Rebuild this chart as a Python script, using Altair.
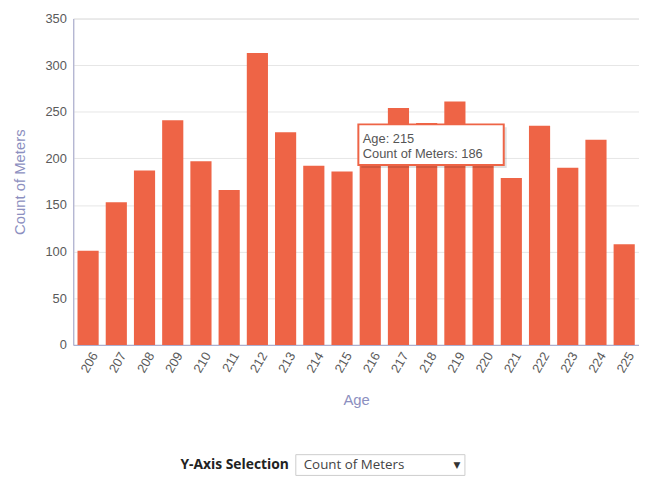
import altair as alt
import pandas as pd

ages = [str(a) for a in range(206, 226)]
counts = [101, 153, 187, 241, 197, 166, 313, 228, 192, 186,
          200, 254, 238, 261, 205, 179, 235, 190, 220, 108]
y_ticks = [0, 50, 100, 150, 200, 250, 300, 350]

hover_age = "215"
hover_count = counts[ages.index(hover_age)]

BAR = "#ee6446"
AXIS_BLUE = "#a3a6cc"
TITLE_BLUE = "#8c8fc0"
FONT = "Arial, Liberation Sans, sans-serif"

df = pd.DataFrame({"Age": ages, "Count": counts})
tip = pd.DataFrame({"Age": [hover_age], "Count": [hover_count],
                    "l1": [f"Age: {hover_age}"],
                    "l2": [f"Count of Meters: {hover_count}"]})

x = alt.X("Age:N", sort=ages, title="Age",
          scale=alt.Scale(paddingInner=0.25, paddingOuter=0.15),
          axis=alt.Axis(labelAngle=300, labelColor="#5a5a5a", labelFontSize=13,
                        labelFont=FONT, titleFont=FONT, titleFontSize=15,
                        titleColor=TITLE_BLUE, titleFontWeight="normal",
                        domainColor=AXIS_BLUE, ticks=False, labelPadding=8,
                        labelOffset=7, titlePadding=18, grid=False))
y = alt.Y("Count:Q", title="Count of Meters",
          scale=alt.Scale(domain=[0, 350], nice=False),
          axis=alt.Axis(values=y_ticks, labelColor="#5a5a5a", labelFontSize=13,
                        labelFont=FONT, titleFont=FONT, titleFontSize=15,
                        titleColor=TITLE_BLUE, titleFontWeight="normal",
                        domainColor=AXIS_BLUE, ticks=False, labelPadding=7,
                        titlePadding=18, gridColor="#e6e6e6"))

bars = alt.Chart(df).mark_bar(color=BAR).encode(x=x, y=y)

box_path = "M-1,-0.28H1V0.28H-1Z"
box_size = 21609
shadow = alt.Chart(tip).mark_point(shape=box_path, size=box_size, filled=True,
                                   color="#000000", opacity=0.12,
                                   xOffset=93, yOffset=-24).encode(
    x=alt.X("Age:N", sort=ages), y="Count:Q")
box = alt.Chart(tip).mark_point(shape=box_path, size=box_size, filled=True,
                                fill="white", stroke=BAR, strokeWidth=2,
                                opacity=1, xOffset=90, yOffset=-27).encode(
    x=alt.X("Age:N", sort=ages), y="Count:Q")
t1 = alt.Chart(tip).mark_text(align="left", baseline="middle", dx=21, dy=-33,
                              font=FONT, fontSize=13, color="#555555").encode(
    x=alt.X("Age:N", sort=ages), y="Count:Q", text="l1:N")
t2 = alt.Chart(tip).mark_text(align="left", baseline="middle", dx=21, dy=-18,
                              font=FONT, fontSize=13, color="#555555").encode(
    x=alt.X("Age:N", sort=ages), y="Count:Q", text="l2:N")

# Y-axis selection widget (drawn)
sel_label = alt.Chart(pd.DataFrame({"t": ["Y-Axis Selection"]})).mark_text(
    align="right", baseline="middle", font="Open Sans", fontWeight="bold",
    fontSize=14, color="#222222").encode(
    x=alt.value(218), y=alt.value(452), text="t:N")
sel_box = alt.Chart(pd.DataFrame({"a": [0]})).mark_rect(
    fill="white", stroke="#cccccc", strokeWidth=1).encode(
    x=alt.value(225), x2=alt.value(396), y=alt.value(441), y2=alt.value(462))
sel_text = alt.Chart(pd.DataFrame({"t": ["Count of Meters"]})).mark_text(
    align="left", baseline="middle", font="Open Sans", fontSize=13.5,
    color="#444444").encode(x=alt.value(233), y=alt.value(452), text="t:N")
sel_arrow = alt.Chart(pd.DataFrame({"t": ["▼"]})).mark_text(
    align="center", baseline="middle", font="DejaVu Sans", fontSize=9,
    color="#333333").encode(x=alt.value(388), y=alt.value(451), text="t:N")

chart = alt.layer(bars, shadow, box, t1, t2, sel_label, sel_box, sel_text,
                  sel_arrow).properties(
    width=572, height=330,
    autosize=alt.AutoSizeParams(type="none"),
    padding={"left": 66, "top": 8, "right": 0, "bottom": 133},
).configure_view(stroke=None).configure(background="white")

chart.save("out.html", embed_options={"renderer": "svg", "actions": False})
